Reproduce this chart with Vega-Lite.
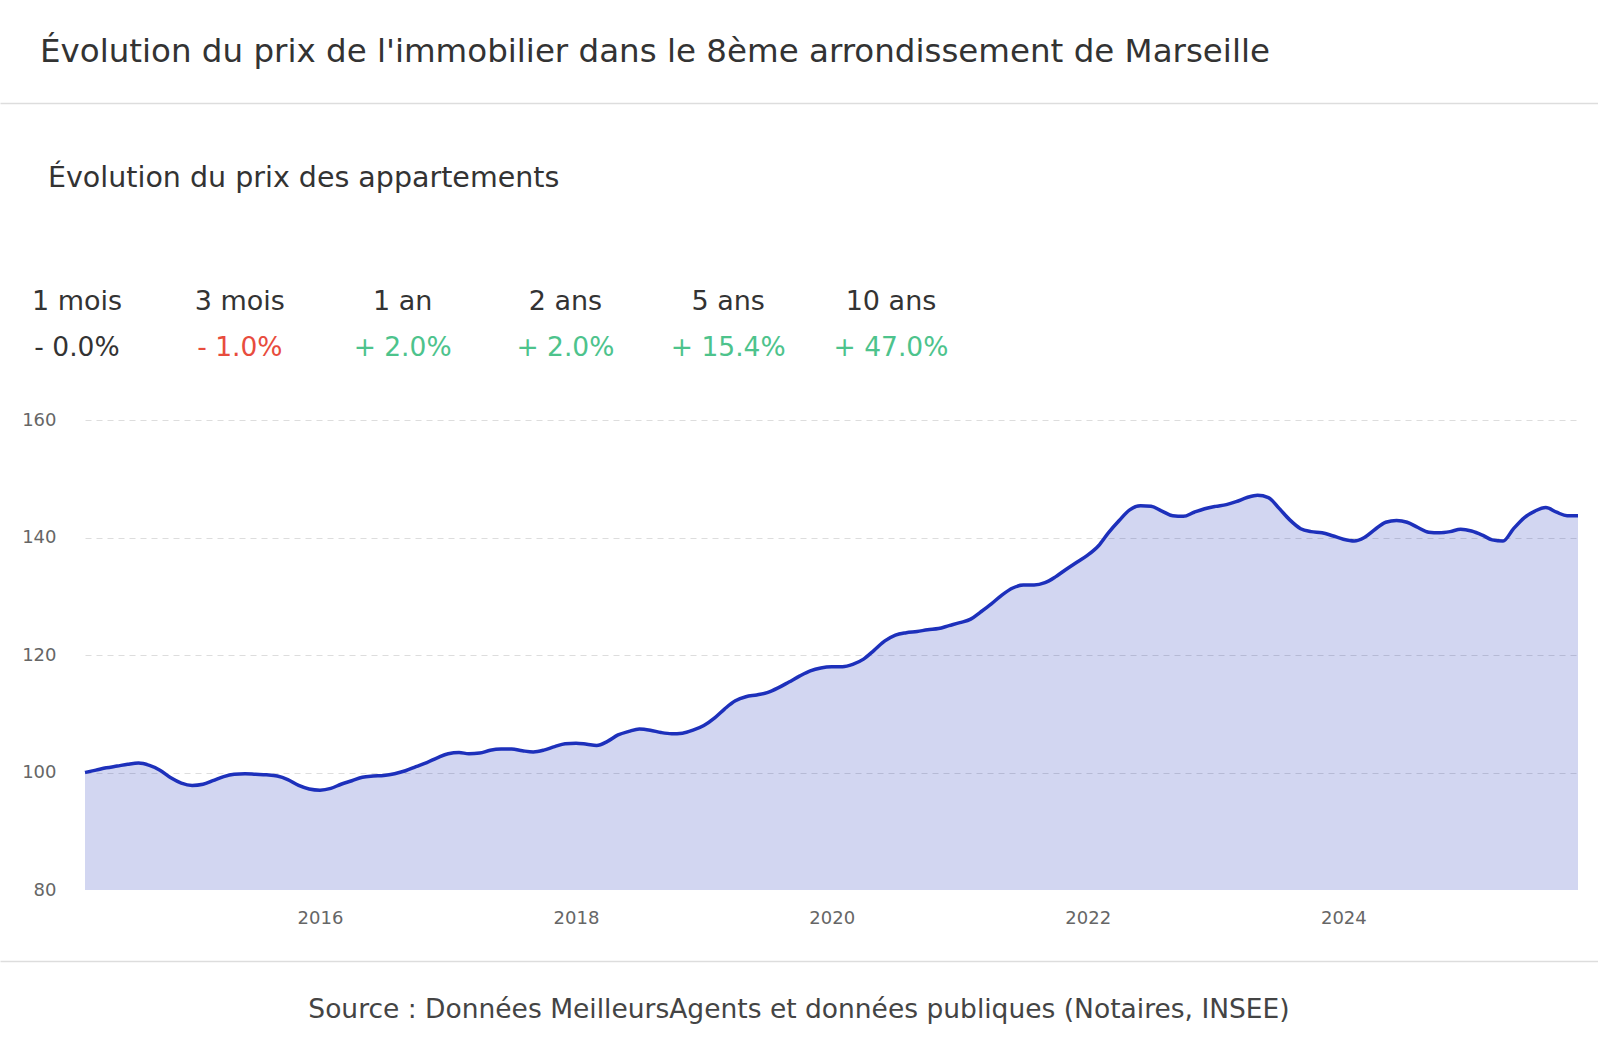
{
  "$schema": "https://vega.github.io/schema/vega-lite/v6.json",
  "background": "white",
  "padding": 0,
  "spacing": 0,
  "config": {
    "view": {"stroke": null},
    "font": "DejaVu Sans",
    "text": {"font": "DejaVu Sans"},
    "title": {"font": "DejaVu Sans"},
    "axis": {"labelFont": "DejaVu Sans"}
  },
  "datasets": {
    "prix": [
      {"mois": "2014-03-01", "indice": 100.0},
      {"mois": "2014-04-01", "indice": 100.4},
      {"mois": "2014-05-01", "indice": 100.8},
      {"mois": "2014-06-01", "indice": 101.1},
      {"mois": "2014-07-01", "indice": 101.4},
      {"mois": "2014-08-01", "indice": 101.6},
      {"mois": "2014-09-01", "indice": 101.2},
      {"mois": "2014-10-01", "indice": 100.4},
      {"mois": "2014-11-01", "indice": 99.1},
      {"mois": "2014-12-01", "indice": 98.2},
      {"mois": "2015-01-01", "indice": 97.8},
      {"mois": "2015-02-01", "indice": 98.0},
      {"mois": "2015-03-01", "indice": 98.6},
      {"mois": "2015-04-01", "indice": 99.3},
      {"mois": "2015-05-01", "indice": 99.7},
      {"mois": "2015-06-01", "indice": 99.8},
      {"mois": "2015-07-01", "indice": 99.7},
      {"mois": "2015-08-01", "indice": 99.6},
      {"mois": "2015-09-01", "indice": 99.4},
      {"mois": "2015-10-01", "indice": 98.8},
      {"mois": "2015-11-01", "indice": 97.8},
      {"mois": "2015-12-01", "indice": 97.2},
      {"mois": "2016-01-01", "indice": 97.0},
      {"mois": "2016-02-01", "indice": 97.3},
      {"mois": "2016-03-01", "indice": 98.0},
      {"mois": "2016-04-01", "indice": 98.6},
      {"mois": "2016-05-01", "indice": 99.2},
      {"mois": "2016-06-01", "indice": 99.4},
      {"mois": "2016-07-01", "indice": 99.5},
      {"mois": "2016-08-01", "indice": 99.8},
      {"mois": "2016-09-01", "indice": 100.3},
      {"mois": "2016-10-01", "indice": 101.0},
      {"mois": "2016-11-01", "indice": 101.7},
      {"mois": "2016-12-01", "indice": 102.5},
      {"mois": "2017-01-01", "indice": 103.2},
      {"mois": "2017-02-01", "indice": 103.4},
      {"mois": "2017-03-01", "indice": 103.2},
      {"mois": "2017-04-01", "indice": 103.3},
      {"mois": "2017-05-01", "indice": 103.8},
      {"mois": "2017-06-01", "indice": 104.0},
      {"mois": "2017-07-01", "indice": 104.0},
      {"mois": "2017-08-01", "indice": 103.7},
      {"mois": "2017-09-01", "indice": 103.5},
      {"mois": "2017-10-01", "indice": 103.8},
      {"mois": "2017-11-01", "indice": 104.4},
      {"mois": "2017-12-01", "indice": 104.9},
      {"mois": "2018-01-01", "indice": 105.0},
      {"mois": "2018-02-01", "indice": 104.8},
      {"mois": "2018-03-01", "indice": 104.6},
      {"mois": "2018-04-01", "indice": 105.3},
      {"mois": "2018-05-01", "indice": 106.4},
      {"mois": "2018-06-01", "indice": 107.0},
      {"mois": "2018-07-01", "indice": 107.4},
      {"mois": "2018-08-01", "indice": 107.2},
      {"mois": "2018-09-01", "indice": 106.8},
      {"mois": "2018-10-01", "indice": 106.6},
      {"mois": "2018-11-01", "indice": 106.7},
      {"mois": "2018-12-01", "indice": 107.2},
      {"mois": "2019-01-01", "indice": 108.0},
      {"mois": "2019-02-01", "indice": 109.3},
      {"mois": "2019-03-01", "indice": 110.8},
      {"mois": "2019-04-01", "indice": 112.2},
      {"mois": "2019-05-01", "indice": 112.9},
      {"mois": "2019-06-01", "indice": 113.2},
      {"mois": "2019-07-01", "indice": 113.6},
      {"mois": "2019-08-01", "indice": 114.4},
      {"mois": "2019-09-01", "indice": 115.4},
      {"mois": "2019-10-01", "indice": 116.4},
      {"mois": "2019-11-01", "indice": 117.3},
      {"mois": "2019-12-01", "indice": 117.8},
      {"mois": "2020-01-01", "indice": 118.0},
      {"mois": "2020-02-01", "indice": 118.0},
      {"mois": "2020-03-01", "indice": 118.4},
      {"mois": "2020-04-01", "indice": 119.3},
      {"mois": "2020-05-01", "indice": 120.8},
      {"mois": "2020-06-01", "indice": 122.4},
      {"mois": "2020-07-01", "indice": 123.4},
      {"mois": "2020-08-01", "indice": 123.8},
      {"mois": "2020-09-01", "indice": 124.0},
      {"mois": "2020-10-01", "indice": 124.3},
      {"mois": "2020-11-01", "indice": 124.5},
      {"mois": "2020-12-01", "indice": 125.0},
      {"mois": "2021-01-01", "indice": 125.5},
      {"mois": "2021-02-01", "indice": 126.1},
      {"mois": "2021-03-01", "indice": 127.3},
      {"mois": "2021-04-01", "indice": 128.7},
      {"mois": "2021-05-01", "indice": 130.2},
      {"mois": "2021-06-01", "indice": 131.4},
      {"mois": "2021-07-01", "indice": 131.9},
      {"mois": "2021-08-01", "indice": 131.9},
      {"mois": "2021-09-01", "indice": 132.3},
      {"mois": "2021-10-01", "indice": 133.3},
      {"mois": "2021-11-01", "indice": 134.6},
      {"mois": "2021-12-01", "indice": 135.8},
      {"mois": "2022-01-01", "indice": 137.0},
      {"mois": "2022-02-01", "indice": 138.6},
      {"mois": "2022-03-01", "indice": 140.8},
      {"mois": "2022-04-01", "indice": 142.9},
      {"mois": "2022-05-01", "indice": 144.7},
      {"mois": "2022-06-01", "indice": 145.4},
      {"mois": "2022-07-01", "indice": 145.3},
      {"mois": "2022-08-01", "indice": 144.5},
      {"mois": "2022-09-01", "indice": 143.7},
      {"mois": "2022-10-01", "indice": 143.6},
      {"mois": "2022-11-01", "indice": 144.3},
      {"mois": "2022-12-01", "indice": 144.9},
      {"mois": "2023-01-01", "indice": 145.3},
      {"mois": "2023-02-01", "indice": 145.6},
      {"mois": "2023-03-01", "indice": 146.1},
      {"mois": "2023-04-01", "indice": 146.8},
      {"mois": "2023-05-01", "indice": 147.2},
      {"mois": "2023-06-01", "indice": 146.8},
      {"mois": "2023-07-01", "indice": 145.0},
      {"mois": "2023-08-01", "indice": 143.0},
      {"mois": "2023-09-01", "indice": 141.5},
      {"mois": "2023-10-01", "indice": 141.0},
      {"mois": "2023-11-01", "indice": 140.8},
      {"mois": "2023-12-01", "indice": 140.3},
      {"mois": "2024-01-01", "indice": 139.7},
      {"mois": "2024-02-01", "indice": 139.4},
      {"mois": "2024-03-01", "indice": 140.0},
      {"mois": "2024-04-01", "indice": 141.4},
      {"mois": "2024-05-01", "indice": 142.6},
      {"mois": "2024-06-01", "indice": 142.9},
      {"mois": "2024-07-01", "indice": 142.6},
      {"mois": "2024-08-01", "indice": 141.7},
      {"mois": "2024-09-01", "indice": 140.9},
      {"mois": "2024-10-01", "indice": 140.8},
      {"mois": "2024-11-01", "indice": 141.0},
      {"mois": "2024-12-01", "indice": 141.4},
      {"mois": "2025-01-01", "indice": 141.1},
      {"mois": "2025-02-01", "indice": 140.4},
      {"mois": "2025-03-01", "indice": 139.6},
      {"mois": "2025-04-01", "indice": 139.4},
      {"mois": "2025-05-01", "indice": 141.5},
      {"mois": "2025-06-01", "indice": 143.4},
      {"mois": "2025-07-01", "indice": 144.5},
      {"mois": "2025-08-01", "indice": 145.1},
      {"mois": "2025-09-01", "indice": 144.3},
      {"mois": "2025-10-01", "indice": 143.7},
      {"mois": "2025-11-01", "indice": 143.7}
    ],
    "variations": [
      {"periode": "1 mois", "variation": "- 0.0%", "sens": "stable"},
      {"periode": "3 mois", "variation": "- 1.0%", "sens": "baisse"},
      {"periode": "1 an", "variation": "+ 2.0%", "sens": "hausse"},
      {"periode": "2 ans", "variation": "+ 2.0%", "sens": "hausse"},
      {"periode": "5 ans", "variation": "+ 15.4%", "sens": "hausse"},
      {"periode": "10 ans", "variation": "+ 47.0%", "sens": "hausse"}
    ]
  },
  "vconcat": [
    {
      "width": 1513,
      "height": 103,
      "data": {"values": [{"titre": "Évolution du prix de l'immobilier dans le 8ème arrondissement de Marseille"}]},
      "mark": {"type": "text", "align": "left", "baseline": "middle", "dx": 40, "fontSize": 32.5, "color": "#333333"},
      "encoding": {
        "text": {"field": "titre"},
        "x": {
          "datum": 0,
          "type": "quantitative",
          "scale": {"domain": [0, 1], "range": [-85, 1513]},
          "axis": {"orient": "bottom", "domainColor": "#dddddd", "domainWidth": 1.5, "ticks": false, "labels": false, "grid": false, "title": null, "minExtent": 60}
        }
      }
    },
    {
      "spacing": 49,
      "vconcat": [
        {
          "width": 1513,
          "height": 46,
          "title": {"text": "Évolution du prix des appartements", "anchor": "start", "frame": "group", "dx": -37, "fontSize": 28.5, "fontWeight": "normal", "color": "#333333", "offset": 96},
          "data": {"name": "variations"},
          "encoding": {
            "x": {"field": "periode", "type": "nominal", "sort": null, "scale": {"type": "point", "range": [-8, 806], "padding": 0}, "axis": null}
          },
          "layer": [
            {
              "mark": {"type": "text", "fontSize": 27, "baseline": "middle", "color": "#333333"},
              "encoding": {
                "text": {"field": "periode"},
                "y": {"datum": "periode", "type": "nominal", "scale": {"type": "point", "domain": ["periode", "variation"], "padding": 0}, "axis": null}
              }
            },
            {
              "mark": {"type": "text", "fontSize": 26.5, "baseline": "middle"},
              "encoding": {
                "text": {"field": "variation"},
                "y": {"datum": "variation", "type": "nominal"},
                "color": {"field": "sens", "type": "nominal", "scale": {"domain": ["stable", "baisse", "hausse"], "range": ["#333333", "#e84c3d", "#4dc38c"]}, "legend": null}
              }
            }
          ]
        },
        {
          "width": 1493,
          "height": 470,
          "data": {"name": "prix"},
          "encoding": {
            "x": {
              "field": "mois",
              "type": "temporal",
              "scale": {"nice": false},
              "axis": {"title": null, "format": "%Y", "tickCount": {"interval": "year", "step": 2}, "labelFontSize": 18, "labelColor": "#666666", "labelFlush": false, "ticks": false, "domain": false, "grid": false, "labelPadding": 19, "minExtent": 71}
            },
            "y": {
              "field": "indice",
              "type": "quantitative",
              "scale": {"domain": [80, 160], "zero": false, "nice": false},
              "axis": {
                "title": null,
                "values": [80, 100, 120, 140, 160],
                "labelFontSize": 18,
                "labelColor": "#666666",
                "ticks": false,
                "domain": false,
                "grid": true,
                "gridColor": "#dddddd",
                "gridDash": [6, 5],
                "gridWidth": 1.2,
                "gridOpacity": {"condition": {"test": "datum.value === 80", "value": 0}, "value": 1},
                "labelPadding": 29,
                "minExtent": 85
              }
            }
          },
          "layer": [
            {
              "mark": {"type": "area", "interpolate": "monotone", "fill": "#1d30bb", "fillOpacity": 0.2},
              "encoding": {"y2": {"datum": 80}}
            },
            {"mark": {"type": "line", "interpolate": "monotone", "stroke": "#1d30bb", "strokeWidth": 3.5}}
          ]
        }
      ]
    },
    {
      "width": 1513,
      "height": 80,
      "data": {"values": [{"source": "Source : Données MeilleursAgents et données publiques (Notaires, INSEE)"}]},
      "mark": {"type": "text", "align": "center", "baseline": "middle", "fontSize": 26.5, "color": "#444444", "dy": 9},
      "encoding": {
        "text": {"field": "source"},
        "x": {
          "datum": 0.5,
          "type": "quantitative",
          "scale": {"domain": [0, 1], "range": [-85, 1513]},
          "axis": {"orient": "top", "domainColor": "#dddddd", "domainWidth": 1.5, "ticks": false, "labels": false, "grid": false, "title": null}
        }
      }
    }
  ]
}
